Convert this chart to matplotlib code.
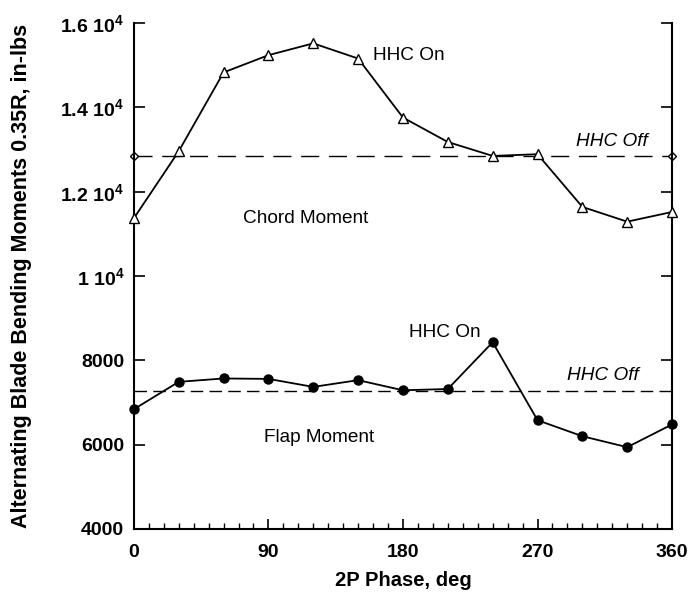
import numpy as np
import matplotlib
matplotlib.use('Agg')
import matplotlib.pyplot as plt

plt.rcParams['font.family'] = ['Liberation Sans', 'DejaVu Sans']
plt.rcParams['mathtext.fontset'] = 'custom'
plt.rcParams['mathtext.rm'] = 'Liberation Sans:bold'
plt.rcParams['mathtext.bf'] = 'Liberation Sans:bold'
plt.rcParams['mathtext.it'] = 'Liberation Sans:bold'

# data
phase = [0, 30, 60, 90, 120, 150, 180, 210, 240, 270, 300, 330, 360]
chord_on = [11370, 12960, 14830, 15240, 15520, 15160, 13760, 13180, 12850, 12890, 11640, 11290, 11520]
flap_on = [6840, 7490, 7570, 7560, 7370, 7530, 7290, 7320, 8430, 6580, 6200, 5940, 6480]
off_x = [0, 360]
chord_off = [12850, 12850]
flap_off = [7280, 7280]

yticks = [4000, 6000, 8000, 10000, 12000, 14000, 16000]
ytick_labels = ['4000', '6000', '8000', r'1 10$^{4}$', r'1.2 10$^{4}$', r'1.4 10$^{4}$', r'1.6 10$^{4}$']
xticks = [0, 90, 180, 270, 360]

fig = plt.figure(figsize=(6.9, 5.93), dpi=100)
ax = fig.add_axes([0.194, 0.108, 0.780, 0.853])

ax.plot(off_x, chord_off, color='black', lw=1.0, dashes=(13, 7),
        marker='D', ms=4, mfc='white', mec='black', clip_on=False, zorder=2)
ax.plot(off_x, flap_off, color='black', lw=1.0, dashes=(9, 4.5), clip_on=False, zorder=2)

ax.plot(phase, chord_on, color='black', lw=1.3, marker='^', ms=6.5,
        mfc='white', mec='black', mew=1.0, clip_on=False, zorder=3)
ax.plot(phase, flap_on, color='black', lw=1.3, marker='o', ms=6.5,
        mfc='black', mec='black', clip_on=False, zorder=3)

ax.set_xlim(0, 360)
ax.set_ylim(4000, 16000)
ax.set_xticks(xticks)
ax.set_xticks(np.arange(0, 361, 10), minor=True)
ax.set_yticks(yticks)
ax.set_yticklabels(ytick_labels)
for lab in ax.get_xticklabels() + ax.get_yticklabels():
    lab.set_fontweight('bold')
    lab.set_fontsize(14)

ax.tick_params(axis='y', which='major', direction='in', length=8, width=1.2,
               left=True, right=True, pad=7)
ax.tick_params(axis='x', which='major', direction='in', length=7, width=1.2, pad=11)
ax.tick_params(axis='x', which='minor', direction='in', length=4, width=1.0)

ax.spines['top'].set_visible(False)
for s in ['left', 'right', 'bottom']:
    ax.spines[s].set_linewidth(1.5)

ax.set_xlabel('2P Phase, deg', fontsize=14.5, fontweight='bold', labelpad=7)
ax.set_ylabel('Alternating Blade Bending Moments 0.35R, in-lbs',
              fontsize=15.5, fontweight='bold', labelpad=20)

ax.text(184, 15240, 'HHC On', fontsize=13.7, ha='center', va='center')
ax.text(320, 13180, 'HHC Off', fontsize=13.7, style='italic', ha='center', va='center')
ax.text(115, 11370, 'Chord Moment', fontsize=13.7, ha='center', va='center')
ax.text(208, 8670, 'HHC On', fontsize=13.7, ha='center', va='center')
ax.text(314, 7650, 'HHC Off', fontsize=13.7, style='italic', ha='center', va='center')
ax.text(124, 6160, 'Flap Moment', fontsize=13.7, ha='center', va='center')

fig.savefig('out.png', dpi=100)
